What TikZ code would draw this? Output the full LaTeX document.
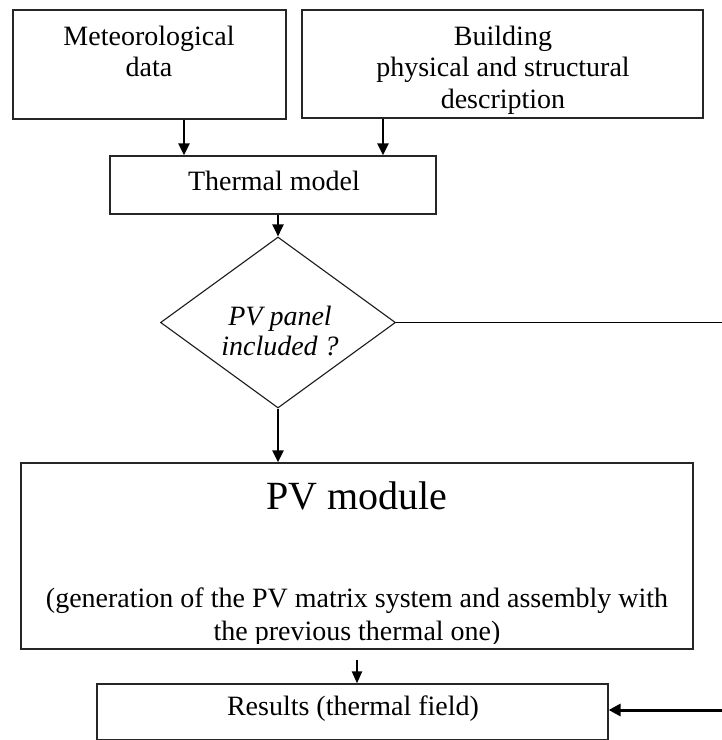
\documentclass[tikz,border=0pt]{standalone}
\usepackage{fontspec}
\setmainfont{Liberation Serif}
\usetikzlibrary{arrows.meta,shapes.geometric}
\tikzset{
  box/.style={draw=black!85, line width=1.2pt, rectangle, inner sep=0pt},
  txt/.style={inner sep=0pt, anchor=base, font=\fontsize{28pt}{31pt}\selectfont},
  itxt/.style={txt, font=\fontsize{28pt}{31pt}\selectfont\itshape},
  bigtxt/.style={inner sep=0pt, anchor=base, font=\fontsize{40pt}{44pt}\selectfont},
  arr/.style={line width=2.4pt, -{Triangle[length=12pt,width=11pt]}},
}
\begin{document}
\begin{tikzpicture}[x=1pt,y=-1pt]
\clip (0,0) rectangle (722,740);
\fill[white] (0,0) rectangle (722,740);

% boxes
\node[box, minimum width=273pt, minimum height=109pt] (met) at (149.5,64.5) {};
\node[box, minimum width=401pt, minimum height=108pt] (bld) at (502.5,64) {};
\node[box, minimum width=326pt, minimum height=58pt] (therm) at (273,185) {};
\node[draw=black!90, line width=1.1pt, diamond, aspect=1.37, inner sep=0pt,
      minimum width=235pt, minimum height=171pt] (dia) at (278,322.5) {};
\node[box, minimum width=672pt, minimum height=186pt] (pv) at (357,556) {};
\node[box, minimum width=511pt, minimum height=56pt] (res) at (352.5,712) {};

% texts
\node[txt] (t1a) at (149,45) {Meteorological};
\node[txt] (t1b) at (149,76.5) {data};
\node[txt] (t2a) at (503,45) {Building};
\node[txt] (t2b) at (503,76.5) {physical and structural};
\node[txt] (t2c) at (503,108) {description};
\node[txt] (t3) at (274,190) {Thermal model};
\node[itxt] (t4a) at (280,325) {PV panel};
\node[itxt] (t4b) at (280,355) {included ?};
\node[bigtxt] (t5) at (357,509) {PV module};
\begin{scope}
  \clip (21,463) rectangle (693,643);
  \node[txt] (t6a) at (357,607) {(generation of the PV matrix system and assembly with};
  \node[txt] (t6b) at (357,640) {the previous thermal one)};
\end{scope}
\node[txt] (t7) at (353,715) {Results (thermal field)};

% connectors
\coordinate (xa) at (184,0);
\coordinate (xb) at (383,0);
\coordinate (edgeA) at (722,322.5);
\coordinate (edgeB) at (722,710);
\draw[arr] (met.south -| xa) -- (therm.north -| xa);
\draw[arr] (bld.south -| xb) -- (therm.north -| xb);
\draw[arr] (therm.south -| dia.north) -- (dia.north);
\draw[arr] (dia.south) -- (pv.north -| dia.south);
\draw[line width=1.3pt] (dia.east) -- (edgeA);
\draw[line width=2pt, -{Triangle[length=12pt,width=10pt]}, shorten <=10pt] (pv.south) -- (res.north -| pv.south);
\draw[line width=3pt, -{Triangle[length=12pt,width=12pt]}] (edgeB) -- (edgeB -| res.east);
\end{tikzpicture}
\end{document}
